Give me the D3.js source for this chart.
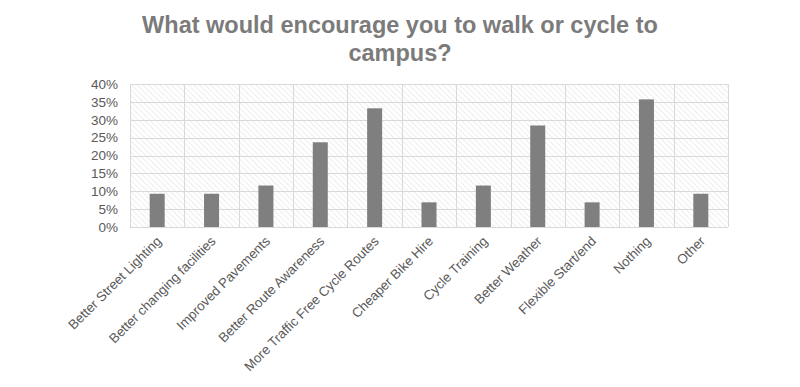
<!DOCTYPE html>
<html>
<head>
<meta charset="utf-8">
<script src="https://cdn.jsdelivr.net/npm/d3@7"></script>
<style>
  body { margin: 0; background: #fff; }
  #chart { width: 800px; height: 387px; }
  text { font-family: "Liberation Sans", Arial, sans-serif; }
</style>
</head>
<body>
<div id="chart"></div>
<script>
//Datos
const categories = ['Better Street Lighting', 'Better changing facilities', 'Improved Pavements', 'Better Route Awareness',
    'More Traffic Free Cycle Routes', 'Cheaper Bike Hire', 'Cycle Training', 'Better Weather',
    'Flexible Start/end', 'Nothing', 'Other'];
const values = [9.3, 9.3, 11.6, 23.7, 33.2, 6.9, 11.6, 28.4, 6.9, 35.7, 9.3];
const yTicks = [0, 5, 10, 15, 20, 25, 30, 35, 40];
const titleLines = ['What would encourage you to walk or cycle to', 'campus?'];

const COLOR_BAR = '#7f7f7f',
    COLOR_GRID = '#d9d9d9',
    COLOR_TEXT = '#595959';

let margin = {top: 84, right: 72, bottom: 160, left: 130},
    width = 800 - margin.left - margin.right,
    height = 387 - margin.top - margin.bottom;

let root = d3.select('#chart')
    .append('svg')
        .attr('width', 800)
        .attr('height', 387);

//Patrón de rayas
let defs = root.append('defs');
let pattern = defs.append('pattern')
    .attr('id', 'hatch')
    .attr('patternUnits', 'userSpaceOnUse')
    .attr('width', 4)
    .attr('height', 4)
    .attr('patternTransform', 'rotate(-45)');
pattern.append('rect')
    .attr('width', 4).attr('height', 4).attr('fill', '#fff');
pattern.append('line')
    .attr('x1', 0).attr('y1', 0).attr('x2', 0).attr('y2', 4)
    .attr('stroke', '#e3e3e3').attr('stroke-width', 1.2);

//Título
root.append('text')
    .attr('x', 400)
    .attr('y', 33)
    .attr('text-anchor', 'middle')
    .attr('font-size', '23.5px')
    .attr('font-weight', 'bold')
    .attr('fill', '#7b7b7b')
    .selectAll('tspan')
    .data(titleLines)
    .enter()
    .append('tspan')
        .attr('x', 400)
        .attr('dy', function(d, i) { return i == 0 ? 0 : 28; })
        .text(function(d) { return d; });

let svg = root.append('g')
    .attr('transform', 'translate(' + margin.left + ',' + margin.top + ')');

let x = d3.scaleBand()
    .domain(categories)
    .range([0, width])
    .paddingInner(0)
    .paddingOuter(0);

let y = d3.scaleLinear()
    .domain([0, 40])
    .range([height, 0]);

//Fondo
svg.append('rect')
    .attr('width', width)
    .attr('height', height)
    .attr('fill', 'url(#hatch)');

//Rejilla horizontal
svg.selectAll('.hgrid')
    .data(yTicks)
    .enter()
    .append('line')
    .attr('class', 'hgrid')
    .attr('x1', 0)
    .attr('x2', width)
    .attr('y1', function(d) { return Math.round(y(d)) + 0.5; })
    .attr('y2', function(d) { return Math.round(y(d)) + 0.5; })
    .attr('stroke', COLOR_GRID)
    .attr('stroke-width', 1);

//Rejilla vertical
let bounds = categories.map(function(d) { return x(d); }).concat([width]);
svg.selectAll('.vgrid')
    .data(bounds)
    .enter()
    .append('line')
    .attr('class', 'vgrid')
    .attr('x1', function(d) { return Math.round(d) + 0.5; })
    .attr('x2', function(d) { return Math.round(d) + 0.5; })
    .attr('y1', 0)
    .attr('y2', height)
    .attr('stroke', COLOR_GRID)
    .attr('stroke-width', 1);

//Barras
let barWidth = 15;
svg.selectAll('.bar')
    .data(values)
    .enter()
    .append('rect')
    .attr('class', 'bar')
    .attr('x', function(d, i) { return x(categories[i]) + x.bandwidth() / 2 - barWidth / 2; })
    .attr('y', function(d) { return y(d); })
    .attr('width', barWidth)
    .attr('height', function(d) { return height - y(d); })
    .attr('fill', COLOR_BAR);

//Eje Y
let yAxis = svg.append('g')
    .call(d3.axisLeft(y).tickValues(yTicks).tickSize(0).tickPadding(12).tickFormat(function(d) { return d + '%'; }));
yAxis.select('.domain').remove();
yAxis.selectAll('text')
    .attr('font-size', '13.5px')
    .attr('fill', COLOR_TEXT)
    .attr('font-family', '"Liberation Sans", Arial, sans-serif');

//Eje X
let xAxis = svg.append('g')
    .attr('transform', 'translate(0,' + height + ')')
    .call(d3.axisBottom(x).tickSize(0).tickPadding(0));
xAxis.select('.domain').remove();
xAxis.selectAll('text')
    .attr('font-size', '13.3px')
    .attr('fill', COLOR_TEXT)
    .attr('font-family', '"Liberation Sans", Arial, sans-serif')
    .attr('text-anchor', 'end')
    .attr('dy', 0)
    .attr('transform', 'translate(5,15) rotate(-45)');
</script>
</body>
</html>
